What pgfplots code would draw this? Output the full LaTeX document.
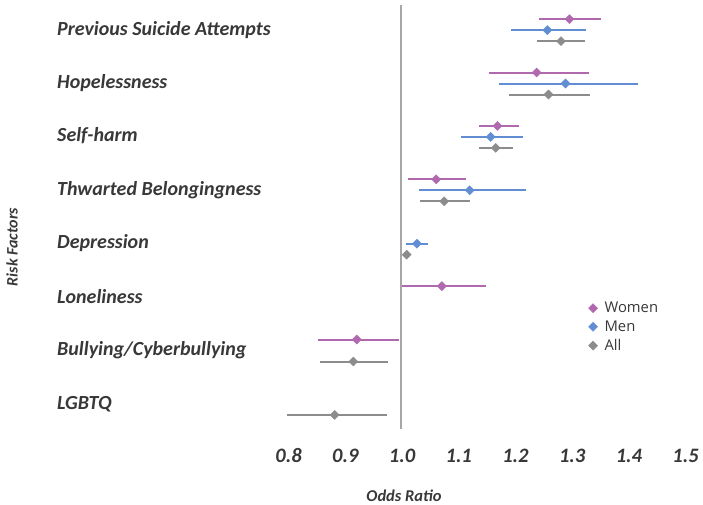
\documentclass[border=0pt]{standalone}
\usepackage{pgfplots}
\pgfplotsset{compat=1.18}
\usepackage{fontspec}
\setmainfont{Carlito}
\newfontfamily\osans{Open Sans}
\definecolor{women}{RGB}{176,104,175}
\definecolor{men}{RGB}{97,142,210}
\definecolor{allc}{RGB}{140,140,140}
\definecolor{txt}{RGB}{56,56,56}
\definecolor{vline}{RGB}{166,166,166}
\pgfplotstableread{
x y ep em
1.297 0.206 0.056 0.054
1.239 -0.794 0.092 0.084
1.170 -1.794 0.038 0.033
1.062 -2.794 0.053 0.050
1.072 -4.794 0.078 0.072
0.922 -5.794 0.075 0.069
}\women
\pgfplotstableread{
x y ep em
1.258 0 0.069 0.064
1.290 -1 0.128 0.118
1.158 -2 0.057 0.053
1.121 -3 0.099 0.090
1.028 -4 0.019 0.020
}\men
\pgfplotstableread{
x y ep em
1.282 -0.206 0.042 0.043
1.260 -1.206 0.073 0.069
1.167 -2.206 0.031 0.029
1.076 -3.206 0.046 0.043
1.010 -4.206 0.005 0.005
0.916 -6.206 0.061 0.058
0.883 -7.206 0.093 0.084
}\allt
\begin{document}
\begin{tikzpicture}[x=1pt,y=1pt]
\path[use as bounding box] (0,0) rectangle (703,-505);
\begin{axis}[
  at={(287.6pt,-429pt)}, anchor=south west,
  scale only axis, width=397pt, height=424pt,
  xmin=0.8, xmax=1.5, ymin=-7.47, ymax=0.47,
  axis line style={draw=none},
  xtick={0.8,0.9,1.0,1.1,1.2,1.3,1.4,1.5},
  xticklabels={},
  ytick=\empty,
  major tick length=0pt,
  clip=false,
  legend style={at={(0.75,0.309)}, anchor=north west, draw=none, fill=none,
    font=\osans\fontsize{14.8}{17}\selectfont, text=txt, row sep=2.5pt, column sep=5pt},
  legend cell align=left,
  error bars/error mark=none,
]
\addplot[women, only marks, mark=square*, mark size=3.2pt, mark options={rotate=45, fill=women, draw=women},
  error bars/.cd, x dir=both, x explicit, error bar style={line width=2pt, women}]
 table[x=x, y=y, x error plus=ep, x error minus=em] {\women};
\addlegendentry{Women}
\addplot[men, only marks, mark=square*, mark size=3.2pt, mark options={rotate=45, fill=men, draw=men},
  error bars/.cd, x dir=both, x explicit, error bar style={line width=2pt, men}]
 table[x=x, y=y, x error plus=ep, x error minus=em] {\men};
\addlegendentry{Men}
\addplot[allc, only marks, mark=square*, mark size=3.2pt, mark options={rotate=45, fill=allc, draw=allc},
  error bars/.cd, x dir=both, x explicit, error bar style={line width=2pt, allc}]
 table[x=x, y=y, x error plus=ep, x error minus=em] {\allt};
\addlegendentry{All}
\addplot[vline, line width=2pt, forget plot] coordinates {(1.0,-7.47) (1.0,0.47)};
\pgfplotsinvokeforeach{0.8,0.9,1.0,1.1,1.2,1.3,1.4,1.5}{
  \node[anchor=base, inner sep=0pt, text=txt, font=\fontsize{20.5}{23}\selectfont\bfseries\itshape,
        xshift=1pt, yshift=-33.5pt] at (axis cs:#1,-7.47) {#1};
}
\end{axis}
\begin{scope}[every node/.style={anchor=west, inner sep=0pt, text=txt, font=\fontsize{20}{23}\selectfont\bfseries\itshape}]
\node at (57,-30) {Previous Suicide Attempts};
\node at (57,-83) {Hopelessness};
\node at (57,-136) {Self-harm};
\node at (57,-190) {Thwarted Belongingness};
\node at (57,-243) {Depression};
\node at (57,-297) {Loneliness};
\node at (57,-350) {Bullying/Cyberbullying};
\node at (57,-404) {LGBTQ};
\end{scope}
\node[text=txt, font=\fontsize{16.5}{19}\selectfont\bfseries\itshape] at (404,-496) {Odds Ratio};
\node[text=txt, rotate=90, font=\fontsize{16}{19}\selectfont\bfseries\itshape] at (12,-247) {Risk Factors};
\end{tikzpicture}
\end{document}
